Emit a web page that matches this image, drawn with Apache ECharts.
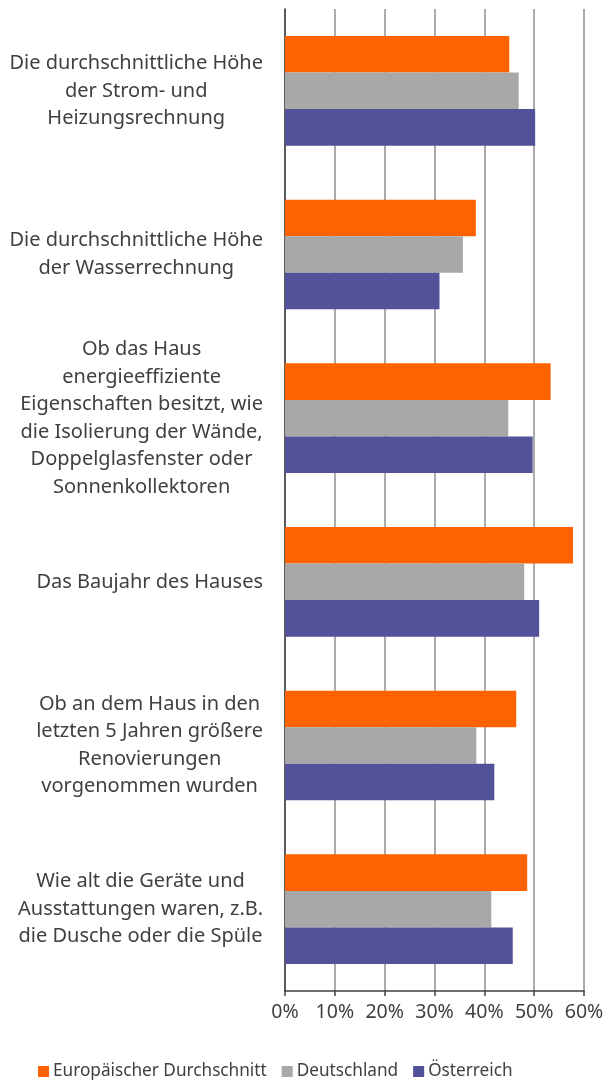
<!DOCTYPE html>
<html><head><meta charset="utf-8">
<script src="https://cdn.jsdelivr.net/npm/echarts@6/dist/echarts.min.js"></script>
<style>html,body{margin:0;padding:0;background:#fff}#c{width:608px;height:1081px}</style>
</head><body><div id="c"></div>
<script>
const categories = [
  "Die durchschnittliche Höhe\nder Strom- und\nHeizungsrechnung",
  "Die durchschnittliche Höhe\nder Wasserrechnung",
  "Ob das Haus\nenergieeffiziente\nEigenschaften besitzt, wie\ndie Isolierung der Wände,\nDoppelglasfenster oder\nSonnenkollektoren",
  "Das Baujahr des Hauses",
  "Ob an dem Haus in den\nletzten 5 Jahren größere\nRenovierungen\nvorgenommen wurden",
  "Wie alt die Geräte und\nAusstattungen waren, z.B.\ndie Dusche oder die Spüle"
];
const seriesNames = ["Europäischer Durchschnitt", "Deutschland", "Österreich"];
const europe = [45.0, 38.3, 53.3, 57.8, 46.4, 48.6];
const germany = [46.9, 35.7, 44.8, 48.0, 38.4, 41.4];
const austria = [50.2, 31.0, 49.7, 51.0, 42.0, 45.7];
const colors = ["#FF6200", "#A8A8A8", "#525199"];

const FONT = "Noto Sans";
const chart = echarts.init(document.getElementById('c'), null, {renderer: 'canvas'});
const mk = (name, data, color) => ({
  name, type: 'bar', data, barGap: '0%', barCategoryGap: '33%',
  itemStyle: {color}, emphasis: {disabled: true}
});
chart.setOption({
  animation: false,
  textStyle: {fontFamily: FONT},
  color: colors,
  grid: {left: 285, right: 24, top: 9, bottom: 90, containLabel: false},
  legend: {
    top: 1058, left: 33, itemWidth: 11, itemHeight: 11, itemGap: 15,
    icon: 'rect',
    textStyle: {fontFamily: FONT, fontSize: 17.2, color: '#404040', padding: [0,0,0,-1]},
    data: seriesNames
  },
  xAxis: {
    type: 'value', min: 0, max: 60, interval: 10,
    axisLine: {show: true, lineStyle: {color: '#404040', width: 1.5}},
    axisTick: {show: true, length: 5, lineStyle: {color: '#404040', width: 1.5}},
    axisLabel: {formatter: '{value}%', fontSize: 19.5, color: '#404040', margin: 11, fontFamily: FONT},
    splitLine: {show: true, lineStyle: {color: '#8f8f8f', width: 1.5}}
  },
  yAxis: {
    type: 'category', data: categories, inverse: true,
    axisLine: {show: true, lineStyle: {color: '#404040', width: 1.5}},
    axisTick: {show: false},
    axisLabel: {
      align: 'right', margin: 22, color: '#404040', fontSize: 20, fontFamily: FONT,
      formatter: v => v.split('\n').map(l => '{c|' + l + '}').join('\n'),
      rich: {c: {align: 'center', fontSize: 20, lineHeight: 27.5, color: '#404040', fontFamily: FONT}}
    }
  },
  series: [mk(seriesNames[0], europe, colors[0]), mk(seriesNames[1], germany, colors[1]), mk(seriesNames[2], austria, colors[2])]
});
</script></body></html>
